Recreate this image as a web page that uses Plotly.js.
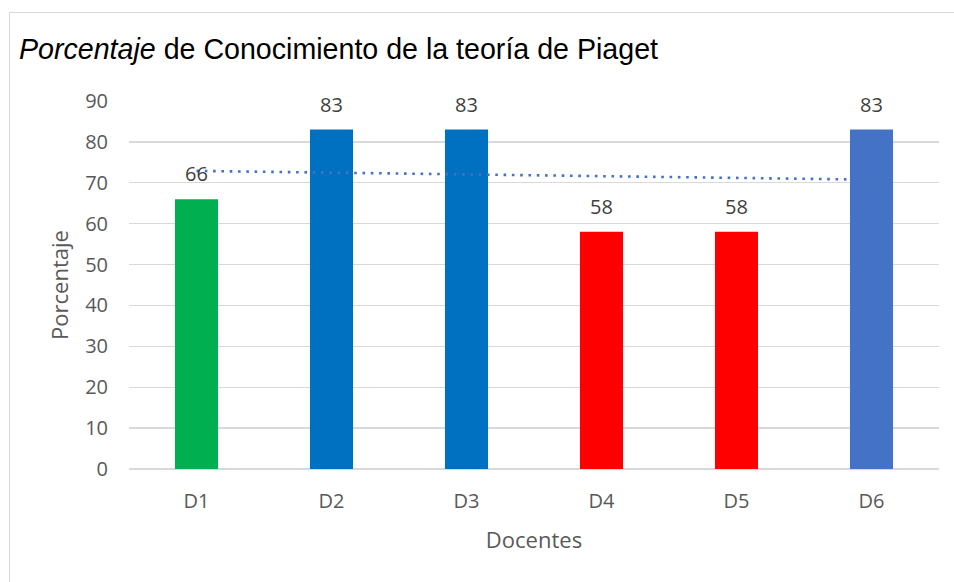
<!DOCTYPE html>
<html><head><meta charset="utf-8">
<script src="https://cdn.plot.ly/plotly-3.0.1.min.js"></script>
<style>
html,body{margin:0;padding:0;background:#fff;overflow:hidden}
#frame{position:absolute;left:9px;top:12px;width:1000px;height:700px;border:1px solid #d9d9d9;box-sizing:border-box}
#chart{position:absolute;left:0;top:0;width:954px;height:582px}
</style></head>
<body><div id="frame"></div><div id="chart"></div>
<script>
const categories = ["D1","D2","D3","D4","D5","D6"];
const values = [66, 83, 83, 58, 58, 83];
const barColors = ["#00B050","#0070C0","#0070C0","#FF0000","#FF0000","#4472C4"];
const yTicks = [0,10,20,30,40,50,60,70,80,90];

// Linear trend line (least squares over category index), like Excel's trendline
const n = values.length;
const xs = values.map((_, i) => i + 1);
const mx = xs.reduce((a,b)=>a+b,0)/n;
const my = values.reduce((a,b)=>a+b,0)/n;
let sxy = 0, sxx = 0;
for (let i=0;i<n;i++){ sxy += (xs[i]-mx)*(values[i]-my); sxx += (xs[i]-mx)**2; }
const slope = sxy/sxx, intercept = my - slope*mx;
const trend = xs.map(x => intercept + slope*x);

const tickFont = {family: "Open Sans, sans-serif", size: 20, color: "#595959"};

const data = [
  {type:"bar", x:categories, y:values, marker:{color:barColors},
   hoverinfo:"skip", showlegend:false},
  {type:"scatter", mode:"lines", x:categories, y:trend,
   line:{color:"#4472C4", width:2.6, dash:"2.6px,5.7px"},
   hoverinfo:"skip", showlegend:false}
];

const annotations = categories.map((c, i) => ({
  x: c, y: values[i], xref:"x", yref:"y", text: String(values[i]),
  showarrow:false, yanchor:"bottom", yshift:10,
  font:{family:"Open Sans, sans-serif", size:20, color:"#404040"}
}));

const layout = {
  width:954, height:582,
  margin:{l:129, r:15, t:101, b:113},
  paper_bgcolor:"rgba(0,0,0,0)", plot_bgcolor:"rgba(0,0,0,0)",
  bargap:0.681,
  annotations: annotations,
  title:{text:"<i>Porcentaje</i> de Conocimiento de la teoría de Piaget",
         font:{family:"Liberation Sans, Arial, sans-serif", size:28.6, color:"#000000"},
         x:19/954, xanchor:"left", xref:"container", y:1-49/582, yanchor:"middle", yref:"container"},
  xaxis:{type:"category", tickfont:tickFont, showgrid:false, zeroline:false,
         showline:false, ticks:"", ticklabelstandoff:18,
         title:{text:"Docentes", font:{family:"Open Sans, sans-serif", size:22, color:"#595959"}, standoff:19}},
  yaxis:{range:[0,90], tickvals:yTicks, ticktext:yTicks.map(String), tickfont:tickFont,
         showgrid:true, gridcolor:"#d9d9d9", gridwidth:1.3, zeroline:true, zerolinecolor:"#d9d9d9", zerolinewidth:1.3,
         showline:false, ticks:"", ticklabelstandoff:20,
         title:{text:"Porcentaje", font:{family:"Open Sans, sans-serif", size:22, color:"#595959"}, standoff:10}},
  font:{family:"Open Sans, sans-serif"}
};

Plotly.newPlot("chart", data, layout, {staticPlot:true, displayModeBar:false});
</script></body></html>
